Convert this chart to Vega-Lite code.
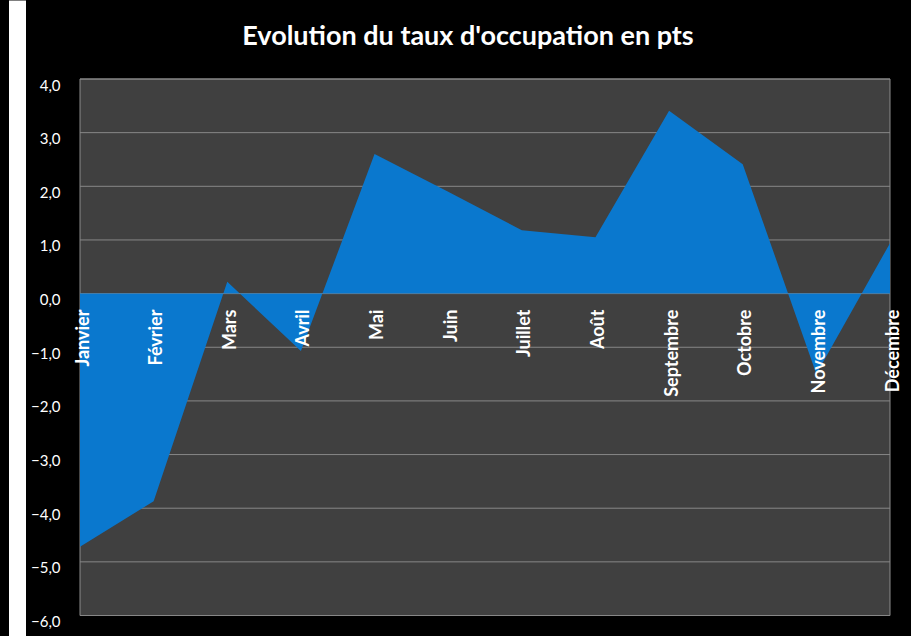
{
  "$schema": "https://vega.github.io/schema/vega-lite/v6.json",
  "width": 810,
  "height": 636,
  "autosize": "none",
  "padding": {"left": 80, "top": 0, "right": 21, "bottom": 0},
  "background": "black",
  "config": {"view": {"stroke": null}, "font": "Lato"},
  "title": {
    "text": "Evolution du taux d'occupation en pts",
    "color": "white",
    "font": "Lato",
    "fontWeight": "bold",
    "fontSize": 27,
    "anchor": "middle",
    "frame": "group",
    "baseline": "alphabetic",
    "offset": -72,
    "dx": -17
  },
  "datasets": {
    "mois": [
      {"mois": "Janvier", "v": -4.72},
      {"mois": "Février", "v": -3.87},
      {"mois": "Mars", "v": 0.22},
      {"mois": "Avril", "v": -1.07},
      {"mois": "Mai", "v": 2.6},
      {"mois": "Juin", "v": 1.9},
      {"mois": "Juillet", "v": 1.18},
      {"mois": "Août", "v": 1.05},
      {"mois": "Septembre", "v": 3.41},
      {"mois": "Octobre", "v": 2.41},
      {"mois": "Novembre", "v": -1.5},
      {"mois": "Décembre", "v": 0.94}
    ],
    "fond": [{"haut": 4, "bas": -6}],
    "grille": [
      {"g": -6}, {"g": -5}, {"g": -4}, {"g": -3}, {"g": -2}, {"g": -1},
      {"g": 0}, {"g": 1}, {"g": 2}, {"g": 3}, {"g": 4}
    ]
  },
  "layer": [
    {
      "data": {"name": "fond"},
      "mark": {"type": "rect", "fill": "#404040", "stroke": "#8c8c8c", "strokeWidth": 1},
      "encoding": {
        "y": {
          "field": "haut",
          "type": "quantitative",
          "scale": {"domain": [-6.382, 5.4725], "nice": false, "zero": false},
          "axis": {
            "orient": "left",
            "offset": 63,
            "domain": true,
            "domainColor": "white",
            "domainWidth": 17,
            "domainCap": "butt",
            "ticks": false,
            "labels": false,
            "grid": false,
            "title": null
          }
        },
        "y2": {"field": "bas"}
      }
    },
    {
      "data": {"name": "grille"},
      "mark": {"type": "rule", "color": "#878787", "strokeWidth": 1},
      "encoding": {
        "y": {
          "field": "g",
          "type": "quantitative",
          "scale": {"domain": [-6.382, 5.4725], "nice": false, "zero": false},
          "axis": {
            "orient": "left",
            "values": [-6, -5, -4, -3, -2, -1, 0, 1, 2, 3, 4],
            "labelExpr": "replace(format(datum.value, '.1f'), '.', ',')",
            "labelColor": "white",
            "labelFont": "Lato",
            "labelFontSize": 15,
            "labelPadding": 20,
            "labelOffset": 6,
            "tickSize": 0,
            "ticks": false,
            "domain": false,
            "grid": false,
            "title": null
          }
        }
      }
    },
    {
      "data": {"name": "mois"},
      "mark": {"type": "area", "fill": "#0A78CE", "opacity": 1},
      "encoding": {
        "x": {"field": "mois", "type": "ordinal", "sort": null, "scale": {"type": "point", "padding": 0}, "axis": null},
        "y": {"field": "v", "type": "quantitative", "axis": null},
        "y2": {"datum": 0}
      }
    },
    {
      "data": {"name": "mois"},
      "mark": {
        "type": "text",
        "angle": 270,
        "align": "right",
        "baseline": "middle",
        "dx": -16,
        "dy": 3.5,
        "font": "Lato",
        "fontWeight": "bold",
        "fontSize": 18,
        "color": "white"
      },
      "encoding": {
        "x": {"field": "mois", "type": "ordinal", "sort": null},
        "y": {"datum": 0, "type": "quantitative", "axis": null},
        "text": {"field": "mois"}
      }
    }
  ],
  "resolve": {"axis": {"y": "independent"}}
}
